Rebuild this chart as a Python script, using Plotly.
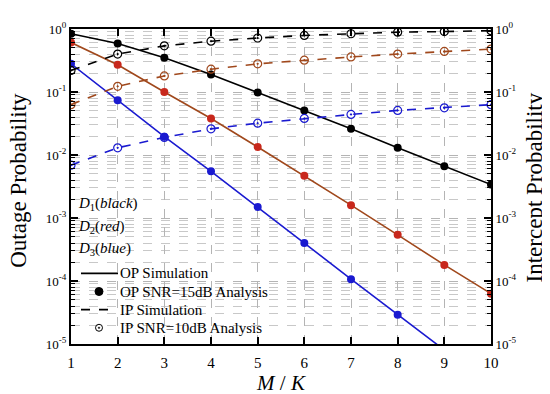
import plotly.graph_objects as go

# ---- data ----
x_vals = [1, 2, 3, 4, 5, 6, 7, 8, 9, 10]
op_black = [0.84, 0.59, 0.35, 0.19, 0.098, 0.051, 0.026, 0.013, 0.0066, 0.0034]
op_red = [0.61, 0.27, 0.10, 0.038, 0.0134, 0.0047, 0.0016, 0.00054, 0.00018, 0.000063]
op_blue = [0.28, 0.074, 0.0195, 0.0055, 0.0015, 0.0004, 0.000107, 0.000029, 0.000008, 0.0000022]
ip_black = [0.22, 0.40, 0.54, 0.64, 0.72, 0.79, 0.84, 0.89, 0.91, 0.94]
ip_red = [0.063, 0.123, 0.18, 0.23, 0.28, 0.32, 0.36, 0.40, 0.44, 0.48]
ip_blue = [0.0069, 0.013, 0.019, 0.026, 0.032, 0.038, 0.044, 0.051, 0.056, 0.063]

y_tick_vals = [1e-5, 1e-4, 1e-3, 1e-2, 1e-1, 1]
y_tick_text = ["10<sup>-5</sup>", "10<sup>-4</sup>", "10<sup>-3</sup>",
               "10<sup>-2</sup>", "10<sup>-1</sup>", "10<sup>0</sup>"]
x_tick_vals = [1, 2, 3, 4, 5, 6, 7, 8, 9, 10]

legend_labels = ["OP Simulation", "OP SNR=15dB Analysis",
                 "IP Simulation", "IP SNR=10dB Analysis"]
d_labels = ["<i>D</i><sub>1</sub>(<i>black</i>)",
            "<i>D</i><sub>2</sub>(<i>red</i>)",
            "<i>D</i><sub>3</sub>(<i>blue</i>)"]

BLACK = "#000000"
RED_LINE = "#a0481c"
RED_MK = "#c8281c"
BLUE = "#1a1ad0"
FONT = "Liberation Serif"

# plot area in pixels (for placing overlay text in paper coordinates)
L, R, T, B = 63, 483, 14, 344
W, H = 550, 394
def px(X):
    return (X - L) / (R - L)
def py(Y):
    return (B - Y) / (B - T)

minor_vals = [m * 10.0 ** e for e in range(-5, 0) for m in range(2, 10)]

fig = go.Figure()

def op_trace(y, lc, mc):
    fig.add_trace(go.Scatter(x=x_vals, y=y, mode="lines+markers",
                             line=dict(color=lc, width=1.6),
                             marker=dict(color=mc, size=8, symbol="circle"),
                             showlegend=False, yaxis="y"))

def ip_trace(y, c):
    fig.add_trace(go.Scatter(x=x_vals, y=y, mode="lines+markers",
                             line=dict(color=c, width=1.6, dash="dash"),
                             marker=dict(color=c, size=8, symbol="circle-open-dot",
                                         line=dict(width=1.2)),
                             showlegend=False, yaxis="y2"))

op_trace(op_black, BLACK, BLACK)
op_trace(op_red, RED_LINE, RED_MK)
op_trace(op_blue, BLUE, BLUE)
ip_trace(ip_black, BLACK)
ip_trace(ip_red, RED_LINE)
ip_trace(ip_blue, BLUE)

yrange = [-5, 0]
common_y = dict(type="log", range=yrange, tickvals=y_tick_vals, ticktext=y_tick_text,
                ticks="inside", ticklen=7, tickwidth=1.5, tickcolor="black",
                tickfont=dict(family=FONT, size=13, color="black"),
                linecolor="black", linewidth=2, showline=True)

fig.update_layout(
    width=W, height=H,
    margin=dict(l=L, r=W - R, t=T, b=H - B),
    paper_bgcolor="white", plot_bgcolor="white",
    font=dict(family=FONT, color="black"),
    showlegend=False,
    xaxis=dict(range=[1, 10], tickvals=x_tick_vals, ticks="inside", ticklen=7,
               tickwidth=1.5, tickcolor="black", showline=True, linecolor="black",
               linewidth=2, mirror="ticks", ticklabelstandoff=4,
               showgrid=True, gridcolor="#b4b4b4", griddash="dash", gridwidth=1,
               zeroline=False,
               tickfont=dict(family=FONT, size=15, color="black"),
               title=dict(text="<i>M</i> / <i>K</i>", standoff=4,
                          font=dict(family=FONT, size=21, color="black"))),
    yaxis=dict(**common_y, mirror=True,
               showgrid=True, gridcolor="#b4b4b4", griddash="dash", gridwidth=1,
               minor=dict(tickvals=minor_vals, ticks="inside", ticklen=4,
                          tickcolor="black", tickwidth=1.2, showgrid=True,
                          gridcolor="#c8c8c8", griddash="dash", gridwidth=1)),
    yaxis2=dict(**common_y, overlaying="y", side="right", showgrid=False,
                minor=dict(tickvals=minor_vals, ticks="inside", ticklen=4,
                           tickcolor="black", tickwidth=1.2, showgrid=False)),
)

# y-axis titles
fig.add_annotation(xref="paper", yref="paper", x=px(11), y=py(173),
                   xanchor="center", yanchor="middle", textangle=-90,
                   text="Outage Probability", showarrow=False,
                   font=dict(family=FONT, size=23, color="black"))
fig.add_annotation(xref="paper", yref="paper", x=px(526), y=py(180),
                   xanchor="center", yanchor="middle", textangle=-90,
                   text="Intercept Probability", showarrow=False,
                   font=dict(family=FONT, size=23, color="black"))

# D labels
d_ypix = [197, 221, 244]
for lab, yp in zip(d_labels, d_ypix):
    fig.add_annotation(xref="paper", yref="paper", x=px(68),
                       y=py(yp), xanchor="left", yanchor="middle",
                       text=lab, showarrow=False,
                       font=dict(family=FONT, size=15, color="black"))

# hand-drawn legend
leg_y = [270, 289, 308, 327]
x0s, x1s, xm = 73, 110, 91
# solid line sample
fig.add_shape(type="line", xref="paper", yref="paper",
              x0=px(x0s), x1=px(x1s), y0=py(leg_y[0]), y1=py(leg_y[0]),
              line=dict(color=BLACK, width=1.6))
# filled marker sample
fig.add_shape(type="circle", xref="paper", yref="paper",
              xsizemode="pixel", ysizemode="pixel",
              xanchor=px(xm), yanchor=py(leg_y[1]),
              x0=-4, x1=4, y0=-4, y1=4,
              fillcolor=BLACK, line=dict(color=BLACK, width=1))
# dashed line sample
fig.add_shape(type="line", xref="paper", yref="paper",
              x0=px(x0s), x1=px(x1s - 4), y0=py(leg_y[2]), y1=py(leg_y[2]),
              line=dict(color=BLACK, width=1.6, dash="dash"))
# open circle w/ dot sample
fig.add_shape(type="circle", xref="paper", yref="paper",
              xsizemode="pixel", ysizemode="pixel",
              xanchor=px(xm), yanchor=py(leg_y[3]),
              x0=-3.5, x1=3.5, y0=-3.5, y1=3.5,
              fillcolor="rgba(0,0,0,0)", line=dict(color=BLACK, width=1))
fig.add_shape(type="circle", xref="paper", yref="paper",
              xsizemode="pixel", ysizemode="pixel",
              xanchor=px(xm), yanchor=py(leg_y[3]),
              x0=-0.8, x1=0.8, y0=-0.8, y1=0.8,
              fillcolor=BLACK, line=dict(color=BLACK, width=0.5))
for lab, yp in zip(legend_labels, leg_y):
    fig.add_annotation(xref="paper", yref="paper", x=px(111),
                       y=py(yp), xanchor="left", yanchor="middle",
                       text=lab, showarrow=False, borderpad=0,
                       font=dict(family=FONT, size=15, color="black"))

fig.write_html("out.html")
